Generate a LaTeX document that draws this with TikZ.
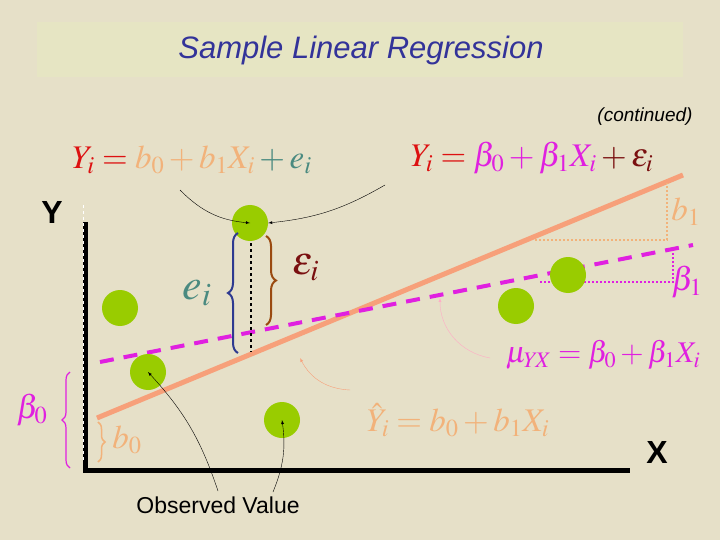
\documentclass[tikz,border=0pt]{standalone}
\usepackage{mathptmx}
\usepackage{fontspec}
\setsansfont{Liberation Sans}
\usetikzlibrary{decorations.pathreplacing}
\definecolor{bg}{HTML}{E6E0C8}
\definecolor{tb}{HTML}{E6E5C3}
\definecolor{grn}{HTML}{99CC00}
\definecolor{sal}{HTML}{F7A07A}
\definecolor{mag}{HTML}{E020E0}
\definecolor{lor}{HTML}{F2B27A}
\definecolor{teal}{HTML}{4A8A80}
\definecolor{dred}{HTML}{7A1010}
\definecolor{red}{HTML}{DD1111}
\definecolor{brn}{HTML}{9A4A10}
\definecolor{blu}{HTML}{2E3A90}
\definecolor{ttl}{HTML}{333399}
\tikzset{dot/.style={circle,fill=grn,minimum size=36pt,inner sep=0pt},
 eq/.style={font=\fontsize{33}{35}\selectfont,inner sep=0pt},
 arr/.style={-latex,thin}}
\begin{document}
\begin{tikzpicture}[x=1pt,y=-1pt]
\fill[bg] (0,0) rectangle (720,540);
\useasboundingbox (0,0) rectangle (720,540);
\fill[tb] (37,22) rectangle (683,77);
\node (title) at (361,50) {\sffamily\itshape\fontsize{31}{33}\selectfont\color{ttl}Sample Linear Regression};
\node (cont) at (645,117) {\sffamily\itshape\fontsize{19}{21}\selectfont (continued)};
% axes
\draw[line width=5pt] (85,222) -- (85,470) -- (630,470);
\draw[white,dashed,line width=0.6pt] (83,205) -- (83,460);
\node (Y) at (52,212) {\sffamily\bfseries\fontsize{32}{34}\selectfont Y};
\node (X) at (657,452) {\sffamily\bfseries\fontsize{32}{34}\selectfont X};
% lines
\draw[sal,line width=5pt] (97,418) -- (683,175);
\draw[mag,line width=4pt,dash pattern=on 14pt off 10pt] (100,362) -- (693,245);
% dotted triangles
\draw[lor,dotted,line width=2pt] (535,240) -- (667,240) -- (667,183);
\draw[mag,dotted,line width=2pt] (540,282) -- (673,282) -- (673,252);
% dots
\node[dot] (d1) at (250,223) {};
\node[dot] (d2) at (120,308) {};
\node[dot] (d3) at (148,372) {};
\node[dot] (d4) at (282,420) {};
\node[dot] (d5) at (568,275) {};
\node[dot] (d6) at (516,306) {};
\draw[dashed,line width=2pt] (251,243) -- (251,352);
% braces
\draw[blu,line width=2pt,decorate,decoration={brace,amplitude=10pt,mirror}] (238,233) -- (238,353);
\node[eq,teal,font=\fontsize{44}{46}\selectfont] (ei) at (197,293) {$e_i$};
\draw[brn,line width=2pt,decorate,decoration={brace,amplitude=10pt}] (266,236) -- (266,325);
\node[eq,dred,font=\fontsize{40}{42}\selectfont] (epi) at (306,268) {$\varepsilon_i$};
% equations
\node[eq] (eq1) at (192,160) {$\color{red}Y_i={}\color{lor}b_0+b_1X_i\color{teal}{}+e_i$};
\node[eq] (eq2) at (532,158) {$\color{red}Y_i={}\color{mag}\beta_0+\beta_1X_i\color{dred}{}+\varepsilon_i$};
\node[eq,lor] (b1) at (686,212) {$b_1$};
\node[eq,mag] (be1) at (687,282) {$\beta_1$};
\node[eq,mag,font=\fontsize{30}{32}\selectfont] (mu) at (603,355) {$\mu_{Y\!X}=\beta_0+\beta_1X_i$};
\node[eq,lor] (yh) at (458,420) {$\hat Y_i=b_0+b_1X_i$};
\node[eq,mag] (be0) at (32,410) {$\beta_0$};
\draw[mag,line width=1.2pt,decorate,decoration={brace,amplitude=8pt}] (70,468) -- (70,372);
\draw[lor,line width=1.5pt,decorate,decoration={brace,amplitude=7pt,mirror}] (98,462) -- (98,422);
\node[eq,lor] (b0) at (127,440) {$b_0$};
% arrows
\coordinate (a1) at (180,190);
\coordinate (a2) at (385,185);
\draw[arr] (a1) to[bend right=20] (d1.center);
\draw[arr] (a2) to[bend left=12] (d1.east);
\draw[arr,pink!90!magenta] (490,358) to[bend left=40] (440,298);
\draw[arr,sal] (350,390) to[bend left=30] (300,358);
\node[font=\sffamily\fontsize{23}{25}\selectfont] (obs) at (218,505) {Observed Value};
\draw[arr] (obs.north) ++(0,-2) to[bend right=12] (d3.center);
\draw[arr] (273,492) to[bend right=15] (d4.center);
\end{tikzpicture}
\end{document}
